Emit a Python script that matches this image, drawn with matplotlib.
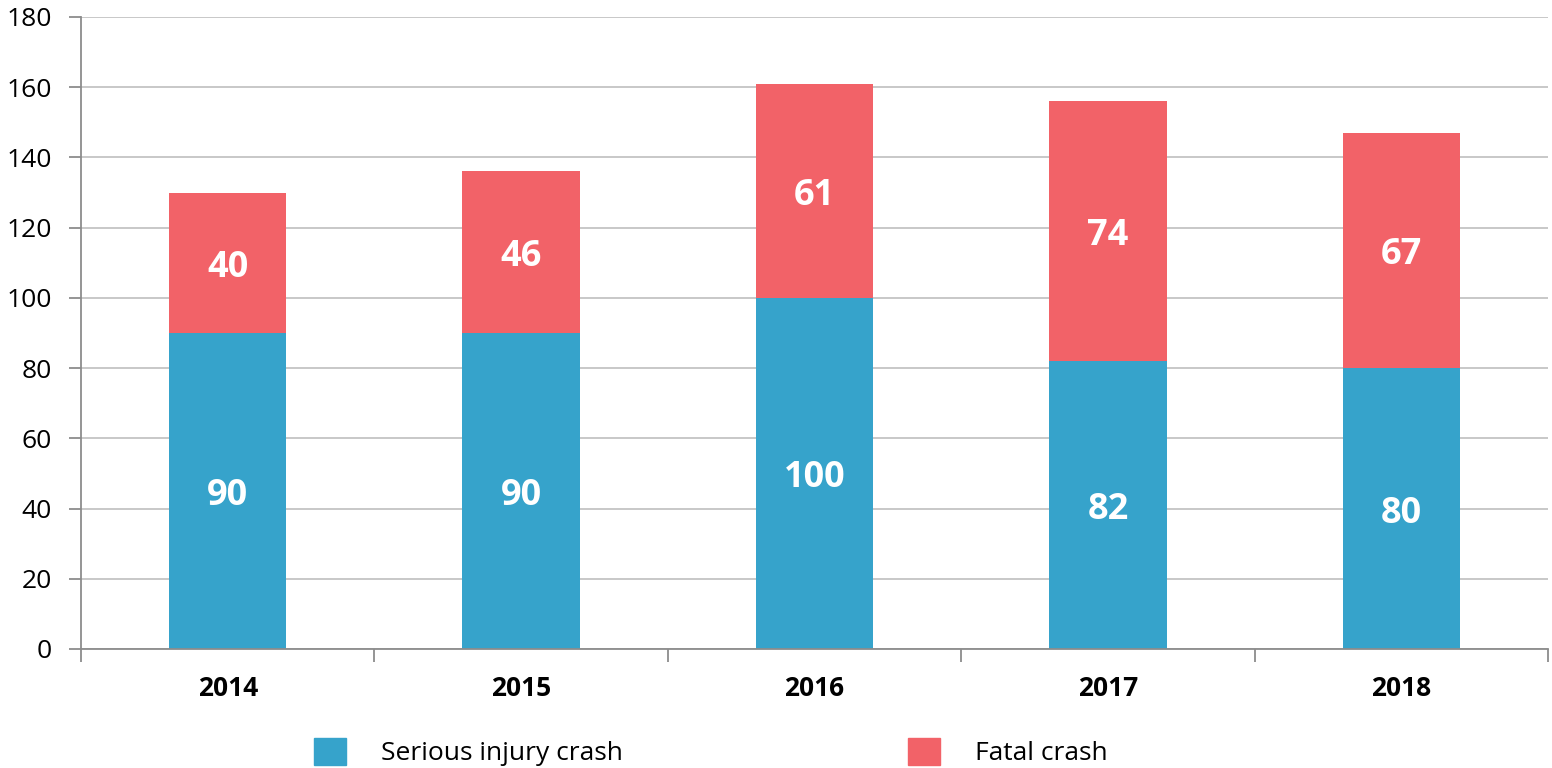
import matplotlib
matplotlib.use("Agg")
import matplotlib.pyplot as plt
from matplotlib.patches import Patch

plt.rcParams['font.family'] = ['Open Sans', 'DejaVu Sans']

years = ['2014', '2015', '2016', '2017', '2018']
serious = [90, 90, 100, 82, 80]
fatal = [40, 46, 61, 74, 67]

blue = '#36A3CB'
red = '#F26268'

fig = plt.figure(figsize=(15.52, 7.68), dpi=100)
ax = fig.add_axes([81/1552, 1-649/768, (1548-81)/1552, (649-17)/768])

x = range(len(years))
ax.bar(x, serious, width=0.4, color=blue, zorder=3)
ax.bar(x, fatal, width=0.4, bottom=serious, color=red, zorder=3)

# value labels, nudged a little below the segment middle like the original
for i in x:
    ax.annotate(str(serious[i]), (i, serious[i]/2), xytext=(0, -5),
                textcoords='offset pixels', ha='center', va='center',
                color='white', fontsize=26, fontweight='bold', zorder=4)
    ax.annotate(str(fatal[i]), (i, serious[i] + fatal[i]/2), xytext=(0, -5),
                textcoords='offset pixels', ha='center', va='center',
                color='white', fontsize=26, fontweight='bold', zorder=4)

ax.set_xlim(-0.5, len(years) - 0.5)
ax.set_ylim(0, 180)
ax.set_yticks(range(0, 181, 20))
ax.set_xticks([i - 0.5 for i in range(len(years) + 1)])
ax.set_xticklabels([])
ax.set_xticks(list(x), minor=True)
ax.set_xticklabels(years, minor=True, fontsize=19, fontweight='bold')
ax.tick_params(axis='x', which='minor', length=0, pad=19)
ax.tick_params(axis='x', which='major', length=9, color='#8C8C8C', width=1.3)
ax.tick_params(axis='y', length=9, color='#8C8C8C', width=1.3, labelsize=19, pad=12)

ax.grid(axis='y', color='#C4C4C4', linewidth=1.3, zorder=0)
for s in ['top', 'right']:
    ax.spines[s].set_visible(False)
for s in ['left', 'bottom']:
    ax.spines[s].set_color('#8C8C8C')
    ax.spines[s].set_linewidth(1.3)
    ax.spines[s].set_zorder(5)

handles = [Patch(color=blue, label='Serious injury crash'),
           Patch(color=red, label='Fatal crash')]
fig.legend(handles=handles, loc='center left', bbox_to_anchor=(314/1552, 1-752/768),
           ncol=2, frameon=False, fontsize=19, borderpad=0, borderaxespad=0,
           handlelength=1.21, handleheight=1.21, handletextpad=1.33, columnspacing=10.8)

fig.savefig('out.png', dpi=100)
